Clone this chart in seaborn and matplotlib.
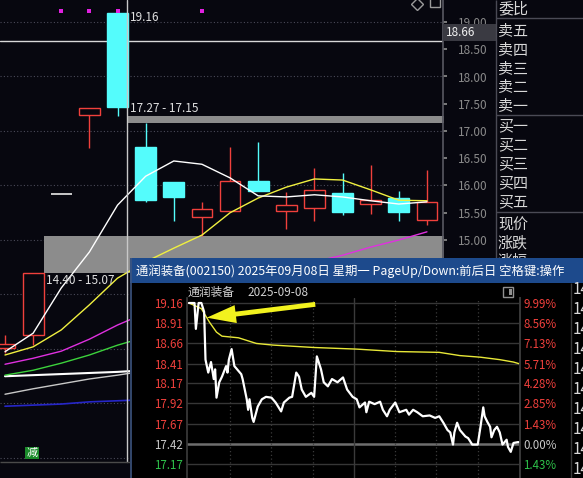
import matplotlib
matplotlib.use('Agg')
import matplotlib.pyplot as plt
from matplotlib.patches import Rectangle, FancyArrowPatch
import numpy as np
import pandas as pd
import seaborn as sns

# ---- daily K-line (last 16 sessions) ----
k_open = [13.02, 13.25, 15.84, 17.30, 19.16, 16.70, 16.06, 15.42, 15.53, 16.08, 15.53, 15.59, 15.86, 15.66, 15.77, 15.37]
k_high = [13.25, 14.40, 15.84, 17.42, 19.16, 17.15, 16.06, 15.70, 16.71, 16.80, 15.88, 16.32, 16.23, 16.38, 15.90, 16.28]
k_low = [12.93, 13.08, 15.84, 16.68, 17.27, 15.70, 15.35, 15.07, 15.53, 15.90, 15.20, 15.35, 15.46, 15.48, 15.35, 15.28]
k_close = [13.09, 14.40, 15.84, 17.42, 17.44, 15.73, 15.79, 15.57, 16.08, 15.90, 15.64, 15.92, 15.51, 15.73, 15.51, 15.70]

ma5 = [12.95, 13.29, 14.12, 14.78, 15.64, 16.17, 16.45, 16.39, 16.14, 15.81, 15.79, 15.83, 15.79, 15.72, 15.66, 15.70]
ma10 = [12.89, 13.04, 13.35, 13.81, 14.30, 14.60, 14.85, 15.09, 15.50, 15.77, 15.97, 16.12, 16.10, 15.92, 15.73, 15.72]
ma20 = [12.72, 12.83, 12.96, 13.18, 13.44, 13.66, 13.86, 14.05, 14.21, 14.36, 14.49, 14.60, 14.72, 14.87, 15.00, 15.15]
ma30 = [12.52, 12.61, 12.74, 12.89, 13.07, 13.22, 13.37, 13.51, 13.66, 13.79, 13.92, 14.03, 14.14, 14.25, 14.34, 14.43]
ma60 = [12.50, 12.52, 12.54, 12.56, 12.58, 12.61, 12.63, 12.66, 12.69, 12.71, 12.74, 12.77, 12.79, 12.82, 12.85, 12.87]
ma120 = [12.17, 12.27, 12.36, 12.45, 12.52, 12.60, 12.66, 12.72, 12.78, 12.84, 12.89, 12.94, 12.99, 13.04, 13.08, 13.12]
ma250 = [11.95, 11.97, 11.99, 12.03, 12.05, 12.07, 12.09, 12.11, 12.13, 12.15, 12.17, 12.19, 12.21, 12.23, 12.25, 12.27]

signal_idx = [2, 3, 4, 7]
gap_start = [1, 4]
gap_lo = [14.40, 17.15]
gap_hi = [15.07, 17.27]
gap_text = ['14.40 - 15.07', '17.27 - 17.15']
cursor_price = 18.66

side_labels = ['委比', '卖五', '卖四', '卖三', '卖二', '卖一', '买一', '买二', '买三', '买四', '买五', '现价', '涨跌', '涨幅']

# ---- intraday 2025-09-08 ----
title = '通润装备(002150) 2025年09月08日 星期一 PageUp/Down:前后日 空格键:操作'
prev_close = 17.42
tick_min = [0, 4, 5, 7, 9, 11, 12, 14, 16, 18, 19, 20, 22, 24, 27, 28, 29, 31, 33, 35,
            38, 39, 42, 43, 44, 46, 47, 50, 53, 56, 60, 63, 67, 69, 73, 75, 78, 80, 82, 85,
            89, 91, 93, 96, 98, 101, 104, 108, 112, 115, 119, 122, 124, 128, 129, 131, 135, 139, 141, 144,
            146, 150, 153, 158, 160, 163, 166, 170, 175, 179, 182, 185, 188, 190, 192, 193, 195, 197, 201, 203,
            206, 210, 212, 214, 215, 217, 219, 220, 222, 224, 226, 228, 231, 232, 234, 236, 239, 240]
tick_price = [19.16, 19.16, 18.84, 19.16, 19.16, 19.05, 18.46, 18.30, 18.43, 18.22, 18.34, 17.99, 18.18, 18.25, 18.38, 18.30, 18.46, 18.59, 18.38, 18.34,
              18.28, 18.22, 17.97, 17.84, 17.97, 17.74, 17.69, 17.88, 17.97, 18.00, 17.99, 17.93, 17.82, 17.93, 17.99, 18.00, 18.30, 18.25, 18.09, 18.00,
              18.05, 18.00, 18.50, 18.34, 18.18, 18.13, 18.22, 18.18, 18.24, 18.09, 18.00, 17.97, 17.87, 17.93, 17.81, 17.94, 17.91, 17.94, 17.84, 17.76,
              17.84, 17.93, 17.81, 17.84, 17.78, 17.84, 17.81, 17.76, 17.77, 17.74, 17.76, 17.68, 17.59, 17.56, 17.41, 17.56, 17.68, 17.59, 17.51, 17.49,
              17.41, 17.41, 17.63, 17.87, 17.76, 17.69, 17.63, 17.50, 17.59, 17.63, 17.56, 17.41, 17.47, 17.38, 17.32, 17.43, 17.44, 17.44]
avg_min = [0, 9, 15, 20, 24, 36, 49, 61, 91, 122, 151, 182, 197, 212, 226, 236, 240]
avg_price = [19.16, 19.09, 18.92, 18.80, 18.75, 18.73, 18.66, 18.64, 18.61, 18.59, 18.56, 18.55, 18.51, 18.49, 18.46, 18.43, 18.41]
price_levels = [19.16, 18.91, 18.66, 18.41, 18.17, 17.92, 17.67, 17.42, 17.17]
pct_labels = ['9.99%', '8.56%', '7.13%', '5.71%', '4.28%', '2.85%', '1.43%', '0.00%', '1.43%']

W, H = 583, 478
bg = '#07070f'
red = '#f0403c'
cyan = '#54fcfc'
green = '#2ec24a'

sns.set_theme(style='dark', rc={'figure.facecolor': bg, 'axes.facecolor': bg,
                                'axes.edgecolor': '#4a4a52', 'axes.grid': False})
plt.rcParams['font.family'] = ['Noto Sans CJK SC', 'DejaVu Sans']
plt.rcParams['axes.unicode_minus'] = False

fig = plt.figure(figsize=(W / 100, H / 100), dpi=100)


def px_axes(x0, y0, x1, y1, **kw):
    return fig.add_axes([x0 / W, 1 - y1 / H, (x1 - x0) / W, (y1 - y0) / H], **kw)


def px_overlay(z):
    a = px_axes(0, 0, W, H, zorder=z)
    a.set_xlim(0, W)
    a.set_ylim(H, 0)
    a.set_facecolor('none')
    a.axis('off')
    return a


# ---------------- K-line chart ----------------
ax = px_axes(0, 0, 443, 478, zorder=1)
step = 28.13
ax.set_xlim(-5 / step, 438 / step)
ax.set_ylim(19 - 456 / 54.5, 19 + 22 / 54.5)
idx = np.arange(len(k_close))

for v in range(11, 20):
    ax.axhline(v, color='#4a4a58', ls=(0, (1, 2)), lw=0.8, zorder=0)

for s, lo, hi in zip(gap_start, gap_lo, gap_hi):
    ax.fill_between([s + 0.375, 16], lo, hi, color='#8c8c8c', lw=0, zorder=1)

ax.axhline(cursor_price, color='#d8d8d8', lw=1, zorder=2)

for i in idx:
    o, h, l, c = k_open[i], k_high[i], k_low[i], k_close[i]
    if h == l:
        ax.hlines(c, i - 0.37, i + 0.37, color='#d8d8d8', lw=1.3, zorder=4)
        continue
    col = red if c > o else cyan
    ax.vlines(i, l, h, color=col, lw=1, zorder=3)
    ax.bar(i, abs(c - o), bottom=min(o, c), width=0.74, facecolor=bg if c > o else cyan,
           edgecolor=col, lw=1, zorder=4)

ma_df = pd.DataFrame({'idx': idx, 'MA5': ma5, 'MA10': ma10, 'MA20': ma20, 'MA30': ma30,
                      'MA60': ma60, 'MA120': ma120, 'MA250': ma250})
for name, col, lw in [('MA250', '#2626c8', 1.2), ('MA120', '#c8c8c8', 1.0), ('MA60', '#ffffff', 1.5),
                      ('MA30', '#3cd23c', 1.0), ('MA20', '#e030e0', 1.0), ('MA10', '#f0f040', 1.0),
                      ('MA5', '#ffffff', 1.0)]:
    sns.lineplot(data=ma_df, x='idx', y=name, ax=ax, color=col, lw=lw, estimator=None,
                 sort=False, legend=False, zorder=5)
ax.set_xlabel('')
ax.set_ylabel('')

ax.axvline(4.34, ymin=16 / 478, color='#c8c8c8', lw=1, zorder=6)
ax.scatter(signal_idx, [1 - 11 / 478] * len(signal_idx), transform=ax.get_xaxis_transform(),
           marker='s', s=7, color='#e020e0', lw=0, zorder=6)

ax.text(4.45, 19.16 + 0.05, f'{k_high[4]:.2f}', color='#e0e0e0', fontsize=8.5, va='top', zorder=7)
ax.text(4.45, gap_hi[1] + 0.02, gap_text[1], color='#e0e0e0', fontsize=8.5, va='bottom', zorder=7)
ax.text(1.45, gap_lo[0] - 0.03, gap_text[0], color='#e0e0e0', fontsize=8.5, va='top', zorder=7)

for sp in ['top', 'left', 'bottom']:
    ax.spines[sp].set_visible(False)
ax.spines['right'].set_color('#55555e')
ax.yaxis.tick_right()
yt = np.arange(11.0, 19.01, 0.5)
ax.set_yticks(yt)
ax.set_yticklabels([f'{v:.2f}' for v in yt])
ax.tick_params(axis='y', length=3, pad=8, labelsize=8.5, colors='#8a8a8a', direction='out')
ax.set_xticks([])

# ---------------- side panel ----------------
side = px_overlay(2)
side.vlines(495.5, 0, 258, color='#4a4a55', lw=1)
side.hlines([18, 115, 212], 495.5, W, color='#4a4a55', lw=1)
side_y = [9, 31, 50, 69, 87, 106, 126, 145, 164, 183, 202, 225, 243, 262]
for lab, y in zip(side_labels, side_y):
    side.text(498, y, lab, color='#d8d8d8', fontsize=10.8, va='center')
side.add_patch(Rectangle((443, 24), 53, 17, facecolor='#3a3a42', edgecolor='none'))
side.text(446, 32.5, f'{cursor_price:.2f}', color='#f0f0f0', fontsize=8.5, va='center')
side.plot(417, 4, marker='D', mfc='none', mec='#9a9a9a', ms=6, mew=1)
side.add_patch(Rectangle((430, -2), 10, 9, fill=False, edgecolor='#9a9a9a', lw=1))
side.hlines(462, 0, 130, color='#4a4a4a', lw=1)
side.text(32, 453, '减', color='white', fontsize=8, ha='center', va='center',
          bbox=dict(boxstyle='square,pad=0.1', facecolor='#1a8a2a', edgecolor='none'))

# ---------------- popup ----------------
pop = px_axes(130, 258, W, H, zorder=5)
pop.set_xlim(130, W)
pop.set_ylim(H, 258)
pop.set_facecolor('#000000')
pop.set_xticks([])
pop.set_yticks([])
for sp in pop.spines.values():
    sp.set_visible(False)
pop.add_patch(Rectangle((130, 258), W - 130, 25, facecolor='#1d4a8c', edgecolor='none'))
pop.text(136, 271, title, color='white', fontsize=8.9, va='center')
pop.vlines(130.5, 258, H, color='#3d5580', lw=1.2)
pop.vlines([571], 283, H, color='#3a3a3a', lw=1)
pop.text(188, 292, '通润装备', color='#d0d0d0', fontsize=8.5, va='center')
pop.text(247, 292, '2025-09-08', color='#d0d0d0', fontsize=8.5, va='center')
pop.add_patch(Rectangle((503, 287), 10, 10, fill=False, edgecolor='#909090', lw=1))
pop.add_patch(Rectangle((509, 289), 3, 6, facecolor='#909090', edgecolor='none'))
for k in range(10):
    pop.text(573, 290 + 20 * k, '14', color='#d8d8d8', fontsize=11, va='center', clip_on=True)

ax_in = px_axes(187, 298, 520, 478, zorder=6)
ax_in.set_facecolor('none')
ax_in.set_xlim(-1.45, 240.73)
ylim_in = (17.17 - 14 / 80.9, 19.16 + 5 / 80.9)
ax_in.set_ylim(*ylim_in)
for p in price_levels:
    if p == prev_close:
        ax_in.axhline(p, color='#6e6e6e', lw=1.8, zorder=1)
    else:
        ax_in.axhline(p, color='#363636', lw=1, zorder=1)
for m in [30, 60, 90, 150, 180, 210]:
    ax_in.axvline(m, color='#3a3a3a', ls=(0, (1, 2)), lw=0.9, zorder=1)
ax_in.axvline(120, color='#3a3a3a', lw=1, zorder=1)

sns.lineplot(x=avg_min, y=avg_price, ax=ax_in, color='#e8e838', lw=1, estimator=None,
             sort=False, legend=False, zorder=3)
sns.lineplot(x=tick_min, y=tick_price, ax=ax_in, color='white', lw=1.6, estimator=None,
             sort=False, legend=False, zorder=4)
ax_in.set_xlabel('')
ax_in.set_ylabel('')
ax_in.set_xticks([])


def level_color(p):
    if p > prev_close:
        return red
    if p < prev_close:
        return green
    return '#c8c8c8'


ax_in.set_yticks(price_levels)
ax_in.set_yticklabels([f'{p:.2f}' for p in price_levels])
ax_in.tick_params(axis='y', length=0, pad=3, labelsize=8.3)
for t, p in zip(ax_in.get_yticklabels(), price_levels):
    t.set_color(level_color(p))
for sp in ['top', 'bottom']:
    ax_in.spines[sp].set_visible(False)
for sp in ['left', 'right']:
    ax_in.spines[sp].set_color('#3a3a3a')

ax_r = ax_in.twinx()
ax_r.set_ylim(*ylim_in)
ax_r.set_yticks(price_levels)
ax_r.set_yticklabels(pct_labels)
ax_r.tick_params(axis='y', length=0, pad=2.5, labelsize=8.3)
for t, p in zip(ax_r.get_yticklabels(), price_levels):
    t.set_color(level_color(p))
for sp in ['top', 'bottom', 'left']:
    ax_r.spines[sp].set_visible(False)
ax_r.spines['right'].set_color('#3a3a3a')
ax_r.set_ylabel('')

# annotation arrow
over = px_overlay(10)
over.add_patch(FancyArrowPatch((318, 304), (204, 318),
                               arrowstyle='simple,head_length=2.1,head_width=1.3,tail_width=0.35',
                               mutation_scale=10, color='#f2f21e', lw=0))

fig.savefig('out.png', dpi=100, facecolor=bg)
